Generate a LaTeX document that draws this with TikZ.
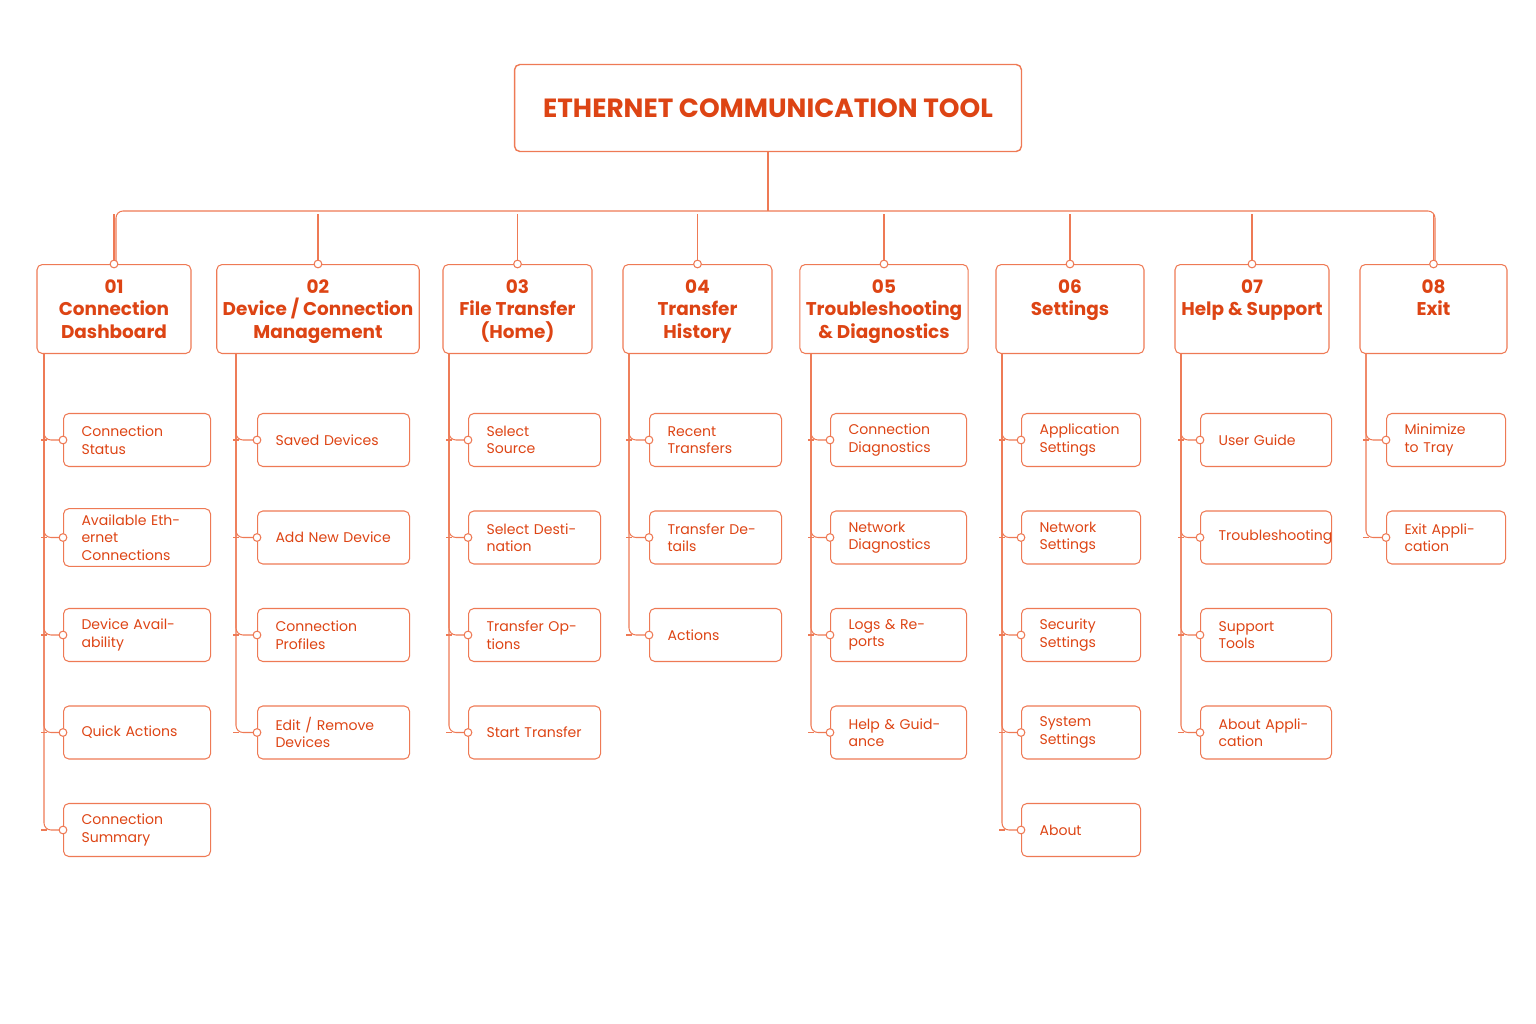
\documentclass[tikz,border=0pt]{standalone}
\usepackage{fontspec}
\setmainfont{Poppins}
\usetikzlibrary{calc}
\definecolor{ink}{HTML}{DD4414}
\definecolor{wire}{HTML}{EE7A55}
\tikzset{
  title/.style={draw=wire, rounded corners=3pt, line width=0.8pt, text=ink, font=\fontsize{15}{18}\selectfont\bfseries, minimum width=10.14cm, minimum height=1.74cm},
  head/.style={draw=wire, rounded corners=3pt, line width=0.6pt, text=ink, font=\fontsize{10.5}{13}\selectfont\bfseries, align=center, anchor=north, minimum height=1.78cm, text depth=0pt},
  item/.style={draw=wire, rounded corners=3pt, line width=0.6pt, text=ink, font=\fontsize{8}{10}\selectfont, align=left, anchor=west, minimum height=1.06cm, text width=#1, inner xsep=0.36cm},
  wire/.style={draw=wire, line width=0.6pt},
  dot/.style={circle, draw=wire, fill=white, line width=0.6pt, inner sep=0pt, minimum size=4.4pt}
}
\begin{document}
\begin{tikzpicture}[x=0.02cm, y=-0.02cm]
\useasboundingbox (0,0) rectangle (1536,1024);
\node[title] (root) at (768,108) {ETHERNET COMMUNICATION TOOL};
\coordinate (bus) at (768,211);
\draw[wire] (root.south) -- (bus);
\draw[wire, rounded corners=4pt] (116,261) |- (1435,211) -- (1435,261);
% columns: index/left/right/trunk/childleft/childright/label
\foreach \n/\xa/\xb/\xt/\ca/\cb/\lab in {
  1/37/191/44/63/210/{01\\Connection\\Dashboard},
  2/226/410/236/257/409/{02\\Device / Connection\\Management},
  3/443/592/449/468/600/{03\\File Transfer\\(Home)},
  4/623/772/629/649/781/{04\\Transfer\\History},
  5/804/964/811/830/966/{05\\Troubleshooting\\\& Diagnostics},
  6/996/1144/1002/1021/1140/{06\\Settings\\\strut},
  7/1175/1329/1181/1200/1331/{07\\Help \& Support\\\strut},
  8/1360/1507/1366/1386/1505/{08\\Exit\\\strut}}{
  \pgfmathsetmacro{\hw}{(\xb-\xa)*0.02}
  \node[head, minimum width=\hw cm] (h\n) at ({(\xa+\xb)/2},264) {\lab};
  \draw[wire] (h\n.north) -- ++(0,-50);
  \node[dot] at (h\n.north) {};
  \coordinate (t\n) at (\xt,353);
  \pgfmathsetmacro{\w}{(\cb-\ca)*0.02-0.72}
  \expandafter\xdef\csname cw\n\endcsname{\w cm}
  \expandafter\xdef\csname cx\n\endcsname{\ca}
}
% children
\foreach \n/\k/\lab in {
  1/1/Connection Status, 1/2/{Available Ethernet\\Connections}, 1/3/Device Availability, 1/4/Quick Actions, 1/5/Connection Summary,
  2/1/Saved Devices, 2/2/Add New Device, 2/3/Connection Profiles, 2/4/{Edit / Remove\\Devices},
  3/1/Select Source, 3/2/Select Destination, 3/3/Transfer Options, 3/4/Start Transfer,
  4/1/Recent Transfers, 4/2/Transfer Details, 4/3/Actions,
  5/1/{Connection\\Diagnostics}, 5/2/{Network\\Diagnostics}, 5/3/Logs \& Reports, 5/4/Help \& Guidance,
  6/1/{Application\\Settings}, 6/2/{Network\\Settings}, 6/3/{Security\\Settings}, 6/4/{System\\Settings}, 6/5/About,
  7/1/User Guide, 7/2/Troubleshooting, 7/3/Support Tools, 7/4/About Application,
  8/1/{Minimize\\to Tray}, 8/2/Exit Application}{
  \pgfmathsetmacro{\yy}{440+(\k-1)*97.5}
  \node[item=\csname cw\n\endcsname] (c\n\k) at (\csname cx\n\endcsname,\yy) {\lab};
  \draw[wire, rounded corners=4pt] (t\n) |- (c\n\k.west);
  \draw[wire] ($(t\n |- c\n\k.west)+(-3,0)$) -- ++(6,0);
  \node[dot] at (c\n\k.west) {};
}
\end{tikzpicture}
\end{document}
